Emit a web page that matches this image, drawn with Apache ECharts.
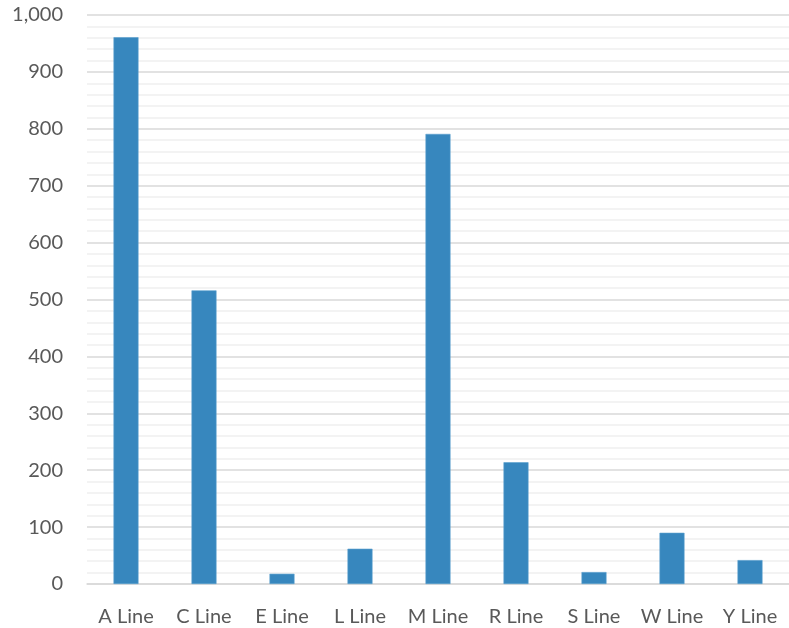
<!DOCTYPE html>
<html>
<head>
<meta charset="utf-8">
<script src="https://cdn.jsdelivr.net/npm/echarts@6/dist/echarts.min.js"></script>
<style>
html,body{margin:0;padding:0;background:#fff;}
#chart{width:789px;height:628px;}
</style>
</head>
<body>
<div id="chart"></div>
<script>
const categories = ['A Line','C Line','E Line','L Line','M Line','R Line','S Line','W Line','Y Line'];
const values = [961, 516, 18, 62, 791, 214, 21, 90, 42];
const yTicks = { min: 0, max: 1000, interval: 100 };

const chart = echarts.init(document.getElementById('chart'), null, {renderer:'canvas'});
chart.setOption({
  animation: false,
  backgroundColor: '#ffffff',
  grid: { left: 87, right: -6, top: 15, bottom: 44, containLabel: false },
  xAxis: {
    type: 'category',
    data: categories,
    axisLine: { show: true, lineStyle: { color: '#d9d9d9', width: 1.5 } },
    axisTick: { show: false },
    axisLabel: { color: '#595959', fontFamily: 'Lato', fontSize: 20, margin: 23, interval: 0, hideOverlap: false },
    splitLine: { show: false }
  },
  yAxis: {
    type: 'value',
    min: yTicks.min, max: yTicks.max, interval: yTicks.interval,
    axisLine: { show: false },
    axisTick: { show: false },
    axisLabel: { color: '#595959', fontFamily: 'Lato', fontSize: 20, margin: 24,
      formatter: v => v.toLocaleString('en-US') },
    splitLine: { show: true, lineStyle: { color: '#d9d9d9', width: 1.5 } },
    minorTick: { show: false, splitNumber: 5 },
    minorSplitLine: { show: true, lineStyle: { color: '#efefef', width: 1.5 } }
  },
  series: [{
    type: 'bar',
    data: values,
    barWidth: 25,
    itemStyle: { color: '#3787be', borderColor: '#5a9fcf', borderWidth: 0.6 }
  }]
});
</script>
</body>
</html>
